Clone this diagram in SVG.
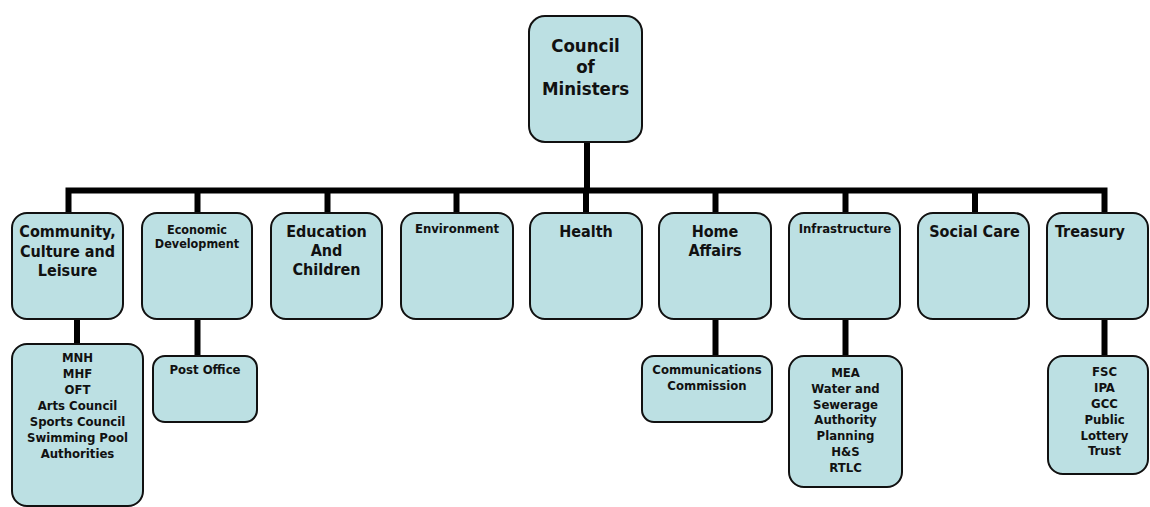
<svg xmlns="http://www.w3.org/2000/svg" width="1150" height="507" viewBox="0 0 1150 507">
  <style>
    .box { fill: #bce0e3; stroke: #111; stroke-width: 2; }
    .link { fill: none; stroke: #000; stroke-width: 6; stroke-linejoin: miter; }
    text { font-family: "DejaVu Sans Condensed", "DejaVu Sans", Verdana, sans-serif; font-stretch: condensed; font-weight: bold; fill: #111; text-anchor: middle; }
    .t19 { font-size: 18.5px; }
    .t16 { font-size: 16px; }
    .t13 { font-size: 13px; }
    .t12 { font-size: 12.5px; }
  </style>

  <!-- connectors -->
  <g id="connectors">
    <path class="link" d="M587,142 V190.5"/>
    <path class="link" d="M68.5,213 V190.5 H1104.5 V213"/>
    <path class="link" d="M197.5,190.5 V213"/>
    <path class="link" d="M327.5,190.5 V213"/>
    <path class="link" d="M456.5,190.5 V213"/>
    <path class="link" d="M586,190.5 V213"/>
    <path class="link" d="M715.5,190.5 V213"/>
    <path class="link" d="M845.5,190.5 V213"/>
    <path class="link" d="M975,190.5 V213"/>
    <path class="link" d="M77,319 V344"/>
    <path class="link" d="M197.5,319 V356"/>
    <path class="link" d="M715.5,319 V356"/>
    <path class="link" d="M845.5,319 V356"/>
    <path class="link" d="M1104.5,319 V356"/>
  </g>

  <!-- top -->
  <g id="council">
    <rect class="box" x="529" y="16" width="113" height="126" rx="16"/>
    <text class="t19" x="585.5" y="51.5">Council</text>
    <text class="t19" x="585.5" y="73">of</text>
    <text class="t19" x="585.5" y="95">Ministers</text>
  </g>

  <!-- departments -->
  <g id="community">
    <rect class="box" x="12" y="213" width="111" height="106" rx="15"/>
    <text class="t16" x="67.5" y="237">Community,</text>
    <text class="t16" x="67.5" y="256.5">Culture and</text>
    <text class="t16" x="67.5" y="276">Leisure</text>
  </g>
  <g id="economic">
    <rect class="box" x="142" y="213" width="110" height="106" rx="15"/>
    <text class="t12" x="197" y="233.5">Economic</text>
    <text class="t12" x="197" y="248">Development</text>
  </g>
  <g id="education">
    <rect class="box" x="271" y="213" width="111" height="106" rx="15"/>
    <text class="t16" x="326.5" y="237">Education</text>
    <text class="t16" x="326.5" y="256">And</text>
    <text class="t16" x="326.5" y="275">Children</text>
  </g>
  <g id="environment">
    <rect class="box" x="401" y="213" width="112" height="106" rx="15"/>
    <text class="t13" x="457" y="233">Environment</text>
  </g>
  <g id="health">
    <rect class="box" x="530" y="213" width="112" height="106" rx="15"/>
    <text class="t16" x="586" y="237">Health</text>
  </g>
  <g id="home-affairs">
    <rect class="box" x="659" y="213" width="112" height="106" rx="15"/>
    <text class="t16" x="715" y="237">Home</text>
    <text class="t16" x="715" y="256">Affairs</text>
  </g>
  <g id="infrastructure">
    <rect class="box" x="789" y="213" width="111" height="106" rx="15"/>
    <text class="t13" x="845" y="233">Infrastructure</text>
  </g>
  <g id="social-care">
    <rect class="box" x="918" y="213" width="111" height="106" rx="15"/>
    <text class="t16" x="974.5" y="237">Social Care</text>
  </g>
  <g id="treasury">
    <rect class="box" x="1047" y="213" width="101" height="106" rx="15"/>
    <text class="t16" x="1090" y="237">Treasury</text>
  </g>

  <!-- agencies -->
  <g id="community-bodies">
    <rect class="box" x="12" y="344" width="131" height="162" rx="15"/>
    <text class="t13" x="77.5" y="362">MNH</text>
    <text class="t13" x="77.5" y="378">MHF</text>
    <text class="t13" x="77.5" y="394">OFT</text>
    <text class="t13" x="77.5" y="410">Arts Council</text>
    <text class="t13" x="77.5" y="426">Sports Council</text>
    <text class="t13" x="77.5" y="442">Swimming Pool</text>
    <text class="t13" x="77.5" y="458">Authorities</text>
  </g>
  <g id="post-office">
    <rect class="box" x="153" y="356" width="104" height="66" rx="12"/>
    <text class="t13" x="205" y="373.5">Post Office</text>
  </g>
  <g id="communications">
    <rect class="box" x="642" y="356" width="130" height="66" rx="12"/>
    <text class="t13" x="707" y="373.5">Communications</text>
    <text class="t13" x="707" y="389.5">Commission</text>
  </g>
  <g id="infrastructure-bodies">
    <rect class="box" x="789" y="356" width="113" height="131" rx="15"/>
    <text class="t13" x="845.5" y="376.5">MEA</text>
    <text class="t13" x="845.5" y="392.5">Water and</text>
    <text class="t13" x="845.5" y="408.5">Sewerage</text>
    <text class="t13" x="845.5" y="424">Authority</text>
    <text class="t13" x="845.5" y="440">Planning</text>
    <text class="t13" x="845.5" y="456">H&amp;S</text>
    <text class="t13" x="845.5" y="471.5">RTLC</text>
  </g>
  <g id="treasury-bodies">
    <rect class="box" x="1048" y="356" width="100" height="118" rx="15"/>
    <text class="t13" x="1104.5" y="376">FSC</text>
    <text class="t13" x="1104.5" y="392">IPA</text>
    <text class="t13" x="1104.5" y="407.5">GCC</text>
    <text class="t13" x="1104.5" y="423.5">Public</text>
    <text class="t13" x="1104.5" y="439.5">Lottery</text>
    <text class="t13" x="1104.5" y="455">Trust</text>
  </g>
</svg>
